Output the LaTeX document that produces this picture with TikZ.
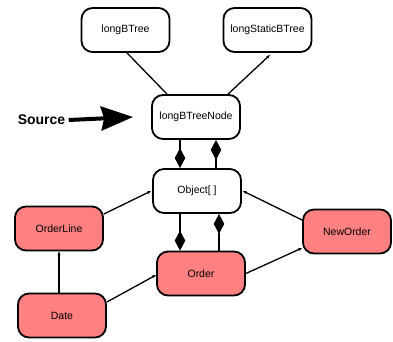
\documentclass[tikz,border=0pt]{standalone}
\usepackage{fontspec}
\setmainfont{Liberation Sans}
\usetikzlibrary{arrows.meta}
\definecolor{boxred}{RGB}{255,128,128}
\tikzset{
  box/.style={draw=black, line width=1.8pt, rounded corners=11pt, minimum width=88pt, minimum height=44pt, inner sep=0pt, font=\fontsize{10.5}{12}\selectfont, fill=white},
  redbox/.style={box, fill=boxred},
  edge/.style={line width=1.3pt},
  tip/.style={edge, -{Stealth[length=4pt,width=3pt]}},
  dia/.style={edge, -{Diamond[length=20pt,width=10.5pt]}},
}
\begin{document}
\begin{tikzpicture}[x=1pt,y=1pt]
\useasboundingbox (0,0) rectangle (393,341);
\node[box] (lbt) at (125.5,311) {longBTree};
\node[box] (lsbt) at (267.5,311) {longStaticBTree};
\node[box] (lbtn) at (196,224) {longBTreeNode};
\node[box] (obj) at (197,150) {Object[ ]};
\node[redbox] (order) at (201,67.5) {Order};
\node[redbox] (ol) at (59,112.5) {OrderLine};
\node[redbox] (no) at (347,109.5) {NewOrder};
\node[redbox] (date) at (62,25.5) {Date};
\node[font=\fontsize{14}{16}\bfseries\selectfont] (src) at (41.5,221) {Source};
\coordinate (srcend) at ([xshift=-18pt]lbtn.west);
\draw[line width=4pt, -{Stealth[length=32pt,width=24pt,inset=3pt]}] (src.east) -- (srcend);
% top edges
\draw[edge] ([xshift=1.5pt]lbt.south) -- ([xshift=-29pt]lbtn.north);
\draw[tip] ([xshift=32pt]lbtn.north) -- ([xshift=2.5pt,yshift=-2pt]lsbt.south);
% diamonds lbtn-obj
\draw[dia] ([xshift=-16pt]lbtn.south) -- ([xshift=-16pt]lbtn.south |- obj.north);
\draw[dia] ([xshift=19pt]obj.north) -- ([xshift=19pt]obj.north |- lbtn.south);
% diamonds obj-order
\draw[dia] ([xshift=-17pt]obj.south) -- ([xshift=-17pt]obj.south |- order.north);
\draw[dia] ([xshift=18pt]order.north) -- ([xshift=18pt]order.north |- obj.south);
% other edges
\draw[tip] ([yshift=14.5pt]ol.east) -- ([xshift=-1pt]obj.west);
\draw[tip] ([yshift=11.5pt]no.west) -- ([xshift=1pt]obj.east);
\draw[tip] (order.east) -- ([yshift=-16.5pt]no.west);
\draw[tip] ([yshift=13.5pt]date.east) -- ([yshift=-1.5pt]order.west);
\draw[tip] ([xshift=-3pt]date.north) -- ([xshift=-3pt]date.north |- ol.south);
\end{tikzpicture}
\end{document}
